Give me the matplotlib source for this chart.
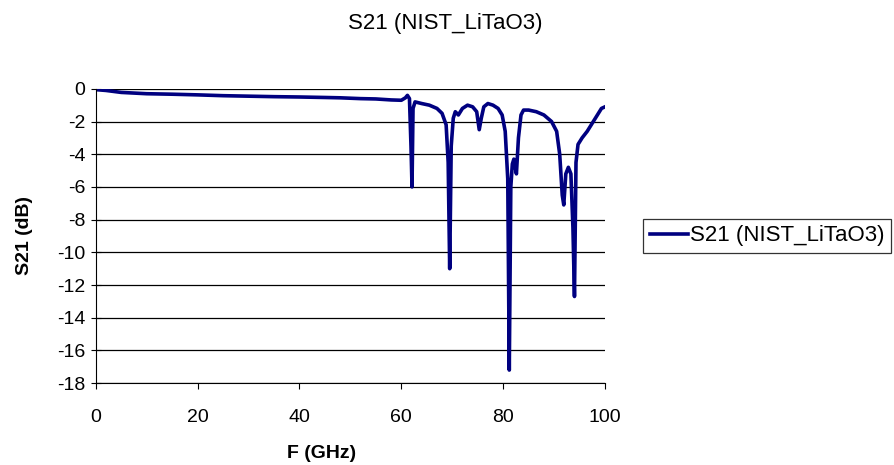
import matplotlib
matplotlib.use('Agg')
import matplotlib.pyplot as plt

# frequency (GHz) and S21 (dB)
freq = [0, 2, 5, 10, 15, 20, 25, 30, 35, 40, 45, 48, 52, 55, 58, 60, 60.8, 61.2,
        61.6, 61.9, 62.1, 62.3, 62.7, 64, 65.5, 67, 68, 68.8, 69.2, 69.5, 69.8,
        70.2, 70.6, 71.2, 72, 73, 74, 74.8, 75.3, 75.7, 76.2, 77, 78, 79, 79.8,
        80.4, 80.9, 81.2, 81.5, 81.8, 82.1, 82.6, 83.0, 83.5, 84, 85, 86.5, 88,
        89.5, 90.5, 91.1, 91.6, 91.9, 92.3, 92.8, 93.3, 93.7, 94.0, 94.3, 94.7,
        95.5, 96.5, 97.5, 98.5, 99.3, 100]
s21 = [-0.05, -0.1, -0.22, -0.3, -0.33, -0.37, -0.42, -0.45, -0.48, -0.5, -0.53,
       -0.55, -0.6, -0.62, -0.68, -0.7, -0.55, -0.4, -0.6, -3.5, -6.0, -1.2, -0.8,
       -0.9, -1.0, -1.2, -1.5, -2.2, -4.5, -11.0, -3.5, -1.8, -1.4, -1.6, -1.2,
       -1.0, -1.1, -1.4, -2.5, -1.8, -1.1, -0.9, -1.0, -1.2, -1.6, -2.6, -5.5,
       -17.2, -6.0, -4.6, -4.3, -5.2, -3.0, -1.6, -1.3, -1.3, -1.4, -1.6, -2.0,
       -2.6, -4.0, -6.5, -7.1, -5.2, -4.8, -5.2, -8.5, -12.7, -4.5, -3.4, -3.0,
       -2.6, -2.1, -1.6, -1.2, -1.1]

plt.rcParams['font.family'] = ['Liberation Sans', 'DejaVu Sans']
plt.rcParams['axes.unicode_minus'] = False

fig = plt.figure(figsize=(8.95, 4.65), dpi=100)
ax = fig.add_axes([0.107, 0.176, 0.569, 0.633])

ax.plot(freq, s21, color='#000080', linewidth=2.6, label='S21 (NIST_LiTaO3)')

ax.set_xlim(0, 100)
ax.set_ylim(-18, 0)
ax.set_xticks(range(0, 101, 20))
ax.set_yticks(range(-18, 1, 2))
ax.yaxis.grid(True, color='black', linewidth=0.9)
ax.set_axisbelow(True)
for side in ['top', 'right']:
    ax.spines[side].set_visible(False)
ax.tick_params(axis='x', labelsize=14, direction='out', length=4.5, pad=14, color='black')
ax.tick_params(axis='y', labelsize=14, direction='inout', length=7, pad=4, color='black')

ax.set_xlabel('F (GHz)', fontsize=14, fontweight='bold')
ax.set_ylabel('S21 (dB)', fontsize=14, fontweight='bold')
ax.xaxis.set_label_coords(0.444, -0.211)
ax.yaxis.set_label_coords(-0.123, 0.5)
fig.text(0.497, 0.95, 'S21 (NIST_LiTaO3)', ha='center', va='center', fontsize=16)

leg = ax.legend(loc='center left', bbox_to_anchor=(1.075, 0.5), fontsize=16,
                frameon=True, fancybox=False, handlelength=1.7, handletextpad=0.1,
                borderpad=0.3, borderaxespad=0)
leg.get_frame().set_edgecolor('black')
leg.get_frame().set_linewidth(0.9)

fig.savefig('out.png', dpi=100)
